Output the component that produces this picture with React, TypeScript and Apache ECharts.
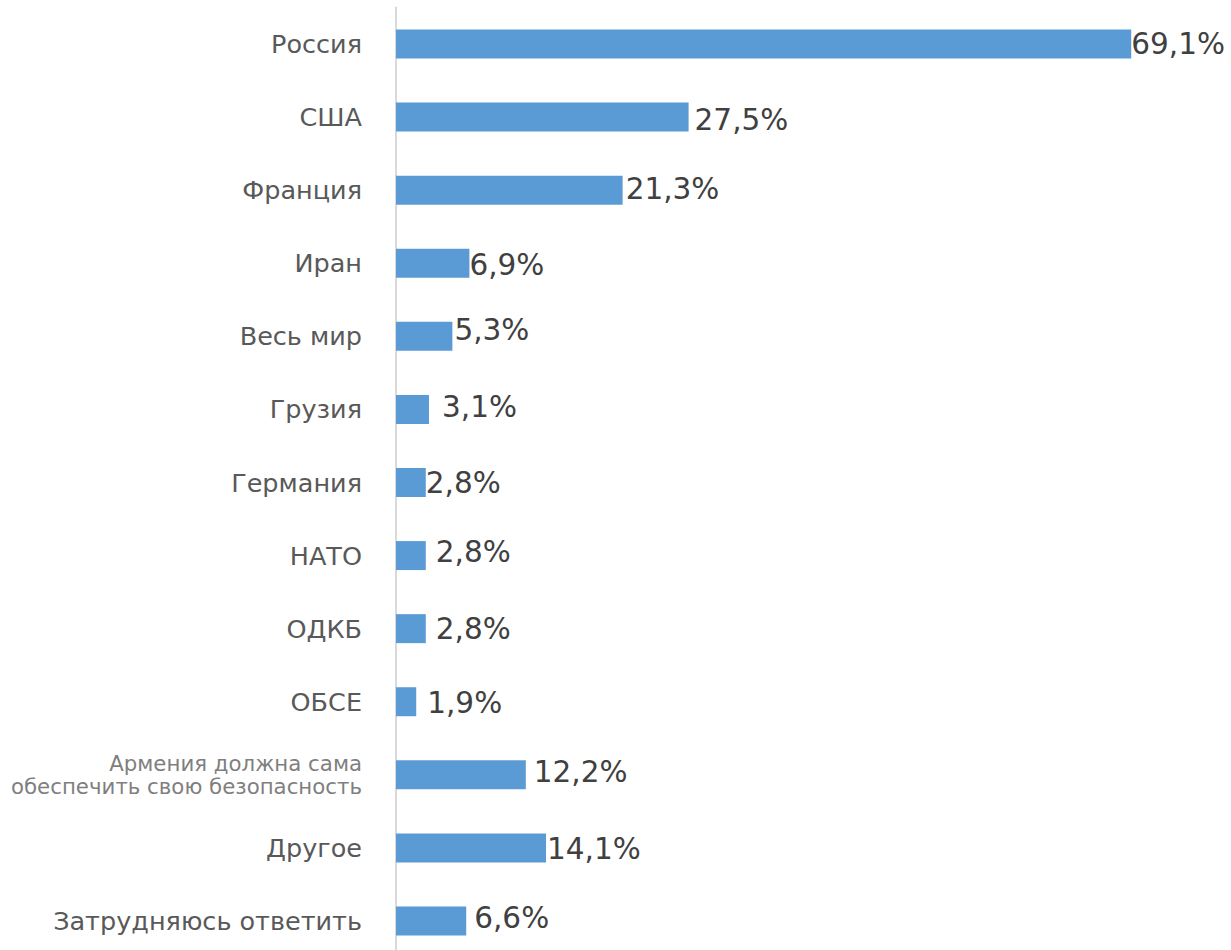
import React, { useEffect, useRef } from "react";
import * as echarts from "echarts";

const categories = [
  "Россия",
  "США",
  "Франция",
  "Иран",
  "Весь мир",
  "Грузия",
  "Германия",
  "НАТО",
  "ОДКБ",
  "ОБСЕ",
  "Армения должна сама\nобеспечить свою безопасность",
  "Другое",
  "Затрудняюсь ответить",
];
const values = [69.1, 27.5, 21.3, 6.9, 5.3, 3.1, 2.8, 2.8, 2.8, 1.9, 12.2, 14.1, 6.6];

// label placement tweaks (distance from bar end, vertical shift), as in the source
const labelDistance = [0, 6, 3, 0, 2, 13, 0, 10, 10, 11, 8, 1, 8];
const labelShift = [0, 3, -1, 2, -6, -2, 0, -4, 0, 1, -3, 1, -3];

export default function App() {
  const ref = useRef<HTMLDivElement>(null);
  useEffect(() => {
    if (!ref.current) return;
    const chart = echarts.init(ref.current, null, { renderer: "svg" });
    const font = "DejaVu Sans";
    chart.setOption({
      animation: false,
      backgroundColor: "#ffffff",
      grid: { left: 396, right: 37, top: 7.5, height: 950, containLabel: false },
      xAxis: {
        type: "value",
        min: 0,
        max: 75,
        show: false,
      },
      yAxis: {
        type: "category",
        inverse: true,
        data: categories,
        axisLine: { show: true, lineStyle: { color: "#d9d9d9", width: 2 } },
        axisTick: { show: false },
        axisLabel: {
          margin: 34,
          fontSize: 25.5,
          color: "#595959",
          fontFamily: font,
          formatter: (v: string) =>
            v.includes("\n")
              ? v
                  .split("\n")
                  .map((l) => `{s|${l}}`)
                  .join("\n")
              : v,
          rich: {
            s: { fontSize: 21.3, color: "#7f7f7f", lineHeight: 23, fontFamily: font, align: "right" },
          },
        },
        splitLine: { show: false },
      },
      series: [
        {
          type: "bar",
          barWidth: 29,
          itemStyle: { color: "#5b9bd5" },
          data: values.map((v, i) => ({
            value: v,
            label: {
              show: true,
              position: "right",
              distance: labelDistance[i],
              offset: [0, labelShift[i]],
              formatter: () => v.toFixed(1).replace(".", ",") + "%",
              fontSize: 29.5,
              color: "#404040",
              fontFamily: font,
            },
          })),
        },
      ],
    });
    return () => chart.dispose();
  }, []);
  return (
    <div style={{ position: "absolute", left: 0, top: 0, width: 1231, height: 950, overflow: "hidden" }}>
      <div ref={ref} style={{ width: 1231, height: 970 }} />
    </div>
  );
}
